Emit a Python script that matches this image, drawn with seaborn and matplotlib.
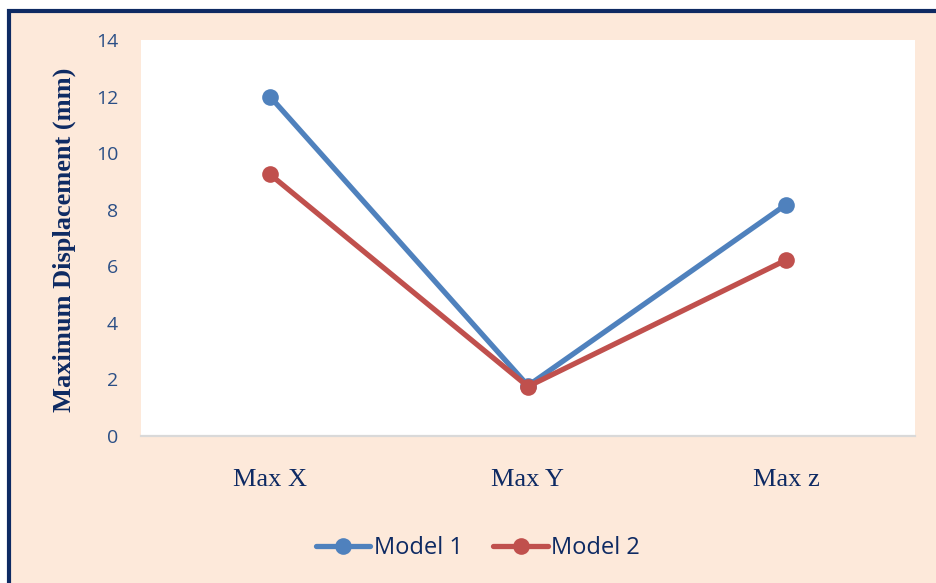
import matplotlib
matplotlib.use("Agg")
import matplotlib.pyplot as plt
import matplotlib.patches as mpatches
from matplotlib.lines import Line2D
import seaborn as sns
import pandas as pd

categories = ["Max X", "Max Y", "Max z"]
model_1 = [12.0, 1.78, 8.18]
model_2 = [9.25, 1.75, 6.22]
series_names = ["Model 1", "Model 2"]
y_ticks = [0, 2, 4, 6, 8, 10, 12, 14]

df = pd.DataFrame({
    "Category": categories * 2,
    "Displacement": model_1 + model_2,
    "Model": [series_names[0]] * 3 + [series_names[1]] * 3,
})

sns.set_theme(style="white")
plt.rcParams["font.family"] = ["Open Sans", "DejaVu Sans"]

W, H = 937, 583
fig = plt.figure(figsize=(W / 100, H / 100), dpi=100, facecolor="white")

peach = "#FDE9DA"
navy = "#0E2A63"
# peach card with a navy frame along the top and left
card = mpatches.Rectangle((9 / W, -0.05), 1.2, 1 - 11 / H + 0.05,
                          transform=fig.transFigure, facecolor=peach,
                          edgecolor=navy, linewidth=3, zorder=-10)
fig.patches.append(card)

ax = fig.add_axes([141 / W, 1 - 436 / H, (915 - 141) / W, (436 - 40) / H])
ax.set_zorder(1)
ax.set_facecolor("white")

palette = {"Model 1": "#4F81BD", "Model 2": "#C0504D"}
sns.lineplot(data=df, x="Category", y="Displacement", hue="Model", palette=palette,
             marker="o", markersize=12, markeredgewidth=0, linewidth=3.8,
             sort=False, ax=ax, legend=False)

ax.set_xlim(-0.5, 2.5)
ax.set_ylim(0, 14)
ax.set_yticks(y_ticks)
ax.set_yticklabels([str(t) for t in y_ticks], fontsize=14, color="#2B4F86")
ax.set_xticks(range(len(categories)))
ax.set_xticklabels(categories, fontsize=19, color=navy, family="Liberation Serif")
ax.tick_params(axis="both", length=0)
ax.tick_params(axis="y", pad=16.5)
ax.tick_params(axis="x", pad=24)
for side in ["top", "right", "left"]:
    ax.spines[side].set_visible(False)
ax.spines["bottom"].set_color("#D9D9D9")
ax.spines["bottom"].set_linewidth(1.6)
ax.set_xlabel("")
ax.set_ylabel("Maximum Displacement (mm)", fontsize=19, fontweight="bold",
              color=navy, family="Liberation Serif")
ax.yaxis.set_label_coords((76 - 141) / (915 - 141), (436 - 240) / (436 - 40))

handles = [Line2D([], [], color=palette[n], linewidth=3.8, marker="o",
                  markersize=12, markeredgewidth=0) for n in series_names]
leg = fig.legend(handles, series_names, loc="center", bbox_to_anchor=(478 / W, 1 - 548 / H),
                 ncol=2, frameon=False, fontsize=17, handlelength=2.3,
                 handletextpad=0.15, columnspacing=1.3)
for t in leg.get_texts():
    t.set_color(navy)

fig.savefig("out.png", dpi=100, facecolor="white")
